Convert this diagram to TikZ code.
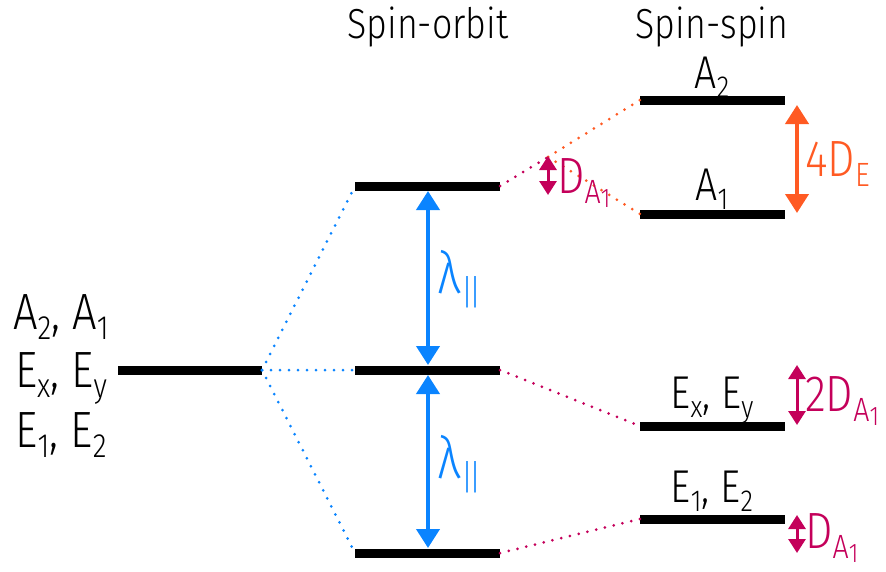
\documentclass[tikz,border=0pt]{standalone}
\usepackage{fontspec}
\setmainfont{Fira Sans Light}[FakeStretch=0.85]
\usetikzlibrary{arrows.meta}
\definecolor{cblue}{RGB}{10,132,255}
\definecolor{cmag}{RGB}{196,0,90}
\definecolor{corange}{RGB}{255,90,35}
\newcommand\lsub[1]{\raisebox{-0.2em}{\scalebox{0.66}{#1}}}
\newcommand\dsub{\raisebox{-0.2em}{\scalebox{0.66}{A\raisebox{-0.12em}{\scalebox{0.8}{1}}}}}
\newcommand\parl{\kern0.02em\raisebox{-0.2em}{\scalebox{0.6}{|\kern-0.12em|}}}
\begin{document}
\begin{tikzpicture}[x=1pt,y=-1pt,
  level/.style={line width=9pt},
  dots/.style={line width=3pt,line cap=round,dash pattern=on 0pt off 9pt},
  big/.style={font=\fontsize{51}{55}\selectfont,inner sep=0pt},
  title/.style={font=\fontsize{42}{46}\selectfont,inner sep=0pt,anchor=base},
  lab/.style={font=\fontsize{46}{50}\selectfont,inner sep=0pt,anchor=base},
  lam/.style={font=\fontsize{58}{62}\selectfont,inner sep=0pt,anchor=base west,text=cblue},
  sarrow/.style={line width=4pt,{Triangle[width=23pt,length=19pt]}-{Triangle[width=23pt,length=19pt]}},
  marrow/.style={line width=3pt,{Triangle[width=17pt,length=14pt]}-{Triangle[width=17pt,length=14pt]}}]
\useasboundingbox (0,0) rectangle (886,571);
% coordinates
\coordinate (L0l) at (118,370); \coordinate (L0r) at (262,370);
\coordinate (S1l) at (355,186); \coordinate (S1r) at (500,186);
\coordinate (S2l) at (355,370); \coordinate (S2r) at (500,370);
\coordinate (S3l) at (355,553); \coordinate (S3r) at (500,553);
\coordinate (A2l) at (640,100); \coordinate (A2r) at (785,100);
\coordinate (A1l) at (640,214); \coordinate (A1r) at (785,214);
\coordinate (Exl) at (640,426); \coordinate (Exr) at (785,426);
\coordinate (E1l) at (640,519); \coordinate (E1r) at (785,519);
\coordinate (mid) at (548,157);
% levels
\foreach \a/\b in {L0l/L0r,S1l/S1r,S2l/S2r,S3l/S3r,A2l/A2r,A1l/A1r,Exl/Exr,E1l/E1r}
  \draw[level] (\a) -- (\b);
% dotted connectors
\draw[dots,cblue] (L0r) -- (S1l);
\draw[dots,cblue] (L0r) -- (S2l);
\draw[dots,cblue] (L0r) -- (S3l);
\draw[dots,cmag] (S1r) -- (mid);
\draw[dots,corange] (mid) -- (A2l);
\draw[dots,corange] (mid) -- (A1l);
\draw[dots,cmag] (S2r) -- (Exl);
\draw[dots,cmag] (S3r) -- (E1l);
% arrows
\coordinate (b1t) at (428,191); \coordinate (b1b) at (428,365);
\coordinate (b2t) at (428,375); \coordinate (b2b) at (428,548);
\draw[sarrow,cblue] (b1t) -- (b1b);
\draw[sarrow,cblue] (b2t) -- (b2b);
\coordinate (ot) at (797,105); \coordinate (ob) at (797,213);
\draw[sarrow,corange] (ot) -- (ob);
\coordinate (m1t) at (548,156); \coordinate (m1b) at (548,195);
\draw[marrow,cmag] (m1t) -- (m1b);
\coordinate (m2t) at (797,365); \coordinate (m2b) at (797,425);
\draw[marrow,cmag] (m2t) -- (m2b);
\coordinate (m3t) at (797,515); \coordinate (m3b) at (797,553);
\draw[marrow,cmag] (m3t) -- (m3b);
% labels
\node[title] (t1) at (428,38) {Spin-orbit};
\node[title] (t2) at (712,38) {Spin-spin};
\node[lab] (la2) at (712,88) {A\lsub{2}};
\node[lab] (la1) at (712,200) {A\lsub{1}};
\node[lab] (lex) at (712,408) {E\lsub{x}, E\lsub{y}};
\node[lab] (le1) at (712,502) {E\lsub{1}, E\lsub{2}};
\node[big,anchor=base] (g1) at (61,329) {A\lsub{2}, A\lsub{1}};
\node[big,anchor=base] (g2) at (61,387) {E\lsub{x}, E\lsub{y}};
\node[big,anchor=base] (g3) at (61,447) {E\lsub{1}, E\lsub{2}};
\node[lam] (l1) at (437,293) {λ\parl};
\node[lam] (l2) at (437,478) {λ\parl};
\node[big,anchor=base west,text=corange] (d1) at (805,176) {4D\lsub{E}};
\node[big,anchor=base west,text=cmag] (d2) at (557,193) {D\dsub};
\node[big,anchor=base west,text=cmag] (d3) at (805,411) {2D\dsub};
\node[big,anchor=base west,text=cmag] (d4) at (805,548) {D\dsub};
\end{tikzpicture}
\end{document}
